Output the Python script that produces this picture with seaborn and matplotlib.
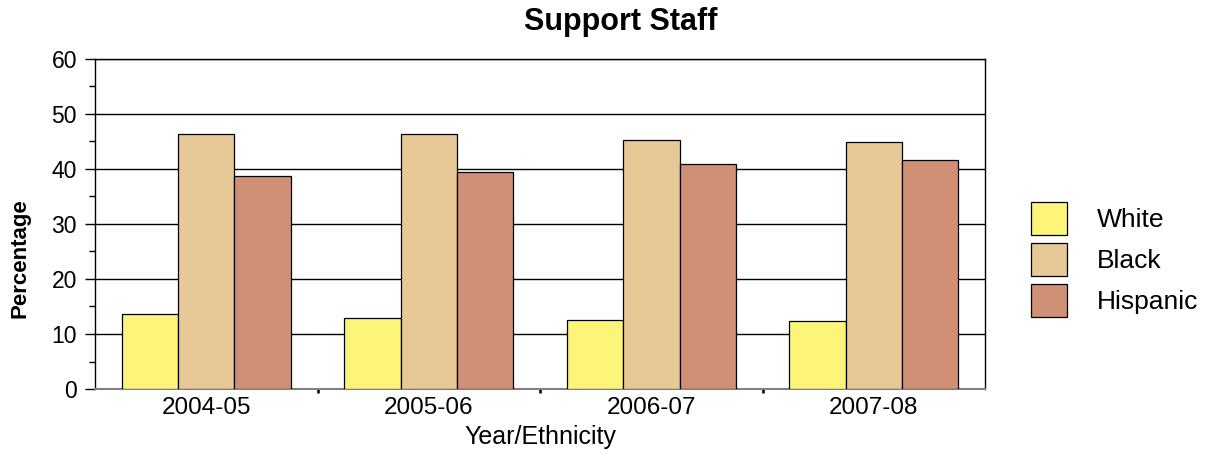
import pandas as pd
import numpy as np
import matplotlib.pyplot as plt
import seaborn as sns
from matplotlib.ticker import MultipleLocator, FixedLocator

# ------------------------------
# Data
# ------------------------------
years = ["2004-05", "2005-06", "2006-07", "2007-08"]
groups = ["White", "Black", "Hispanic"]
white = [13.7, 12.9, 12.6, 12.3]
black = [46.3, 46.3, 45.2, 44.9]
hispanic = [38.7, 39.4, 40.9, 41.6]
colors = ["#FDF57A", "#E6C997", "#D09075"]

df = pd.DataFrame({
    "Year": years * 3,
    "Ethnicity": [g for g in groups for _ in years],
    "Percentage": white + black + hispanic,
})

# ------------------------------
# Plot
# ------------------------------
sns.set_style("white")
plt.rcParams['font.family'] = ['Liberation Sans', 'DejaVu Sans']
plt.rcParams['text.color'] = 'black'
plt.rcParams['axes.labelcolor'] = 'black'
plt.rcParams['xtick.color'] = 'black'
plt.rcParams['ytick.color'] = 'black'

fig = plt.figure(figsize=(12.09, 4.59), dpi=100)
ax = fig.add_axes([0.0786, 0.1525, 0.7362, 0.719])

sns.barplot(data=df, x="Year", y="Percentage", hue="Ethnicity",
            palette=colors, saturation=1, width=0.76,
            edgecolor="black", linewidth=0.9, ax=ax, zorder=3)

ax.set_ylim(0, 60)
ax.set_xlim(-0.5, 3.5)
ax.yaxis.set_major_locator(MultipleLocator(10))
ax.yaxis.set_minor_locator(MultipleLocator(5))
ax.grid(axis="y", color="black", linewidth=1.0, zorder=0)
ax.set_axisbelow(True)

ax.tick_params(axis="y", which="major", direction="out", length=7, width=1,
               labelsize=16.5, left=True, pad=6)
ax.tick_params(axis="y", which="minor", direction="out", length=4, width=1,
               left=True)
ax.tick_params(axis="x", which="major", length=0, labelsize=17.5, pad=6)
ax.xaxis.set_minor_locator(FixedLocator([0.5, 1.5, 2.5]))
ax.tick_params(axis="x", which="minor", direction="out", length=3, width=1.8,
               bottom=True)

for side in ["left", "right", "top"]:
    ax.spines[side].set_color("black")
    ax.spines[side].set_linewidth(1.0)
ax.spines["bottom"].set_color("#808080")
ax.spines["bottom"].set_linewidth(1.5)

fig.text(621 / 1209, 1 - 22 / 459, "Support Staff", fontsize=22,
         fontweight="bold", ha="center", va="center")
ax.set_xlabel("Year/Ethnicity", fontsize=18, labelpad=4)
ax.set_ylabel("")
fig.text(20 / 1209, 1 - 258 / 459, "Percentage", fontsize=16,
         fontweight="bold", rotation=90, ha="center", va="center")

handles, labels = ax.get_legend_handles_labels()
ax.legend_.remove()
fig.legend(handles, labels, loc="center", bbox_to_anchor=(0.922, 0.435),
           frameon=False, fontsize=19, handlelength=1.35, handleheight=1.55,
           handletextpad=1.15, labelspacing=0.3)

plt.savefig("out.png", dpi=100)
